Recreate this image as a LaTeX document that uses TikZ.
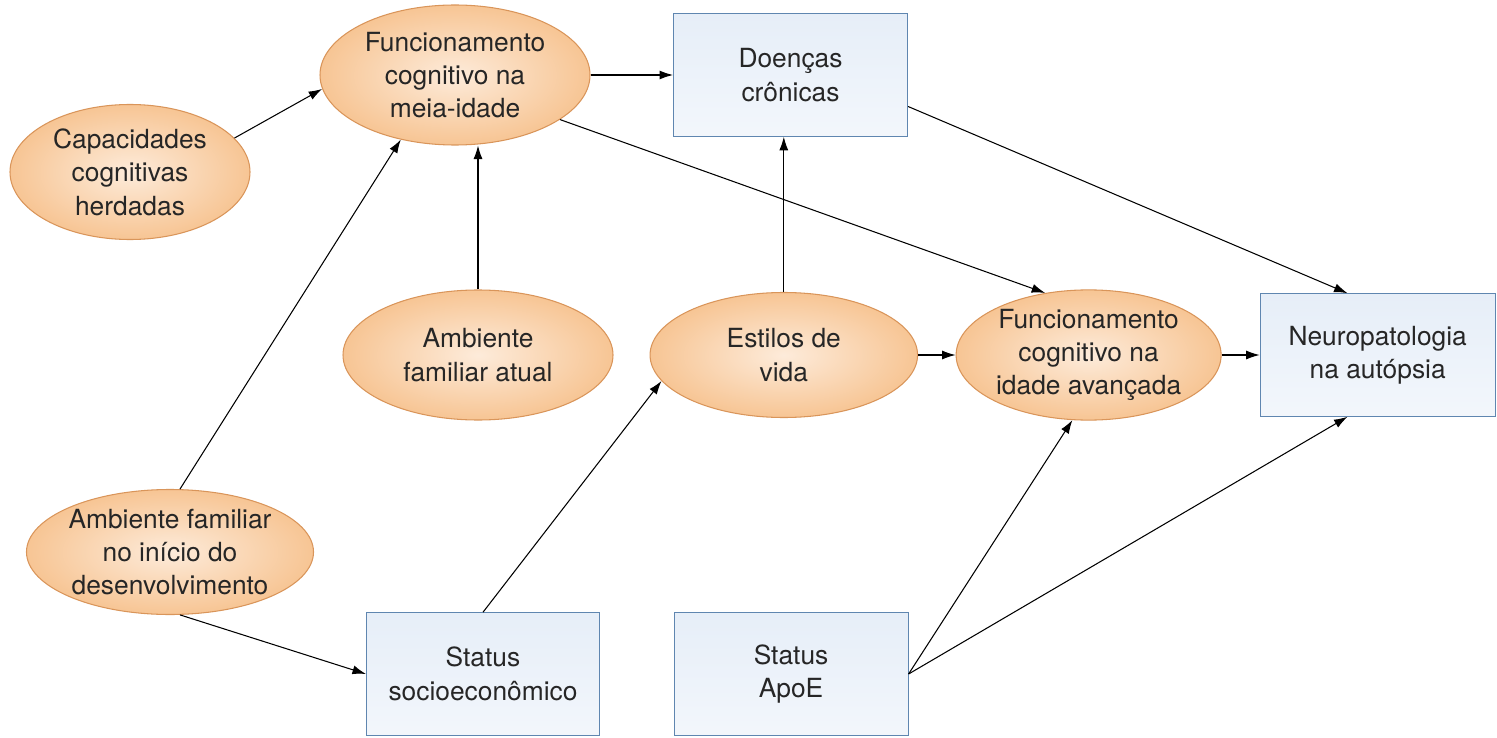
\documentclass[tikz,border=0pt]{standalone}
\usepackage{fontspec}
\setmainfont{TeX Gyre Heros}
\usetikzlibrary{shapes.geometric, arrows.meta, positioning}

\definecolor{ovallight}{HTML}{FDEBDA}
\definecolor{ovaldark}{HTML}{F7C594}
\definecolor{ovaledge}{HTML}{D9955A}
\definecolor{boxfill}{HTML}{E6EEF8}
\definecolor{boxedge}{HTML}{5F86B0}

\begin{document}
\begin{tikzpicture}[
    font=\fontsize{15}{19}\selectfont,
    factor/.style={ellipse, draw=ovaledge, line width=0.6pt, inner color=ovallight, outer color=ovaldark, align=center, inner sep=0pt, text=black!85},
    outcome/.style={rectangle, draw=boxedge, line width=0.6pt, top color=boxfill, bottom color=boxfill!50!white, align=center, minimum width=4.68cm, minimum height=2.45cm, text=black!85},
    arrow/.style={->, >={Latex[length=2.7mm,width=1.8mm]}, line width=0.6pt}
]
\useasboundingbox (0,0) rectangle (29.94,14.74);

\node[factor, minimum width=5.4cm, minimum height=2.8cm] (midcog) at (9.10,13.24) {Funcionamento\\cognitivo na\\meia-idade};
\node[outcome, right=1.65cm of midcog] (chronic) {Doenças\\crônicas};
\node[factor, minimum width=4.8cm, minimum height=2.7cm] (inherit) at (2.60,11.30) {Capacidades\\cognitivas\\herdadas};

\node[factor, minimum width=5.4cm, minimum height=2.6cm] (homenow) at (9.56,7.64) {Ambiente\\familiar atual};
\node[factor, minimum width=5.35cm, minimum height=2.5cm, right=0.72cm of homenow] (lifestyle) {Estilos de\\vida};
\node[factor, minimum width=5.3cm, minimum height=2.5cm, right=0.75cm of lifestyle] (latecog) {Funcionamento\\cognitivo na\\idade avançada};
\node[outcome, minimum width=4.7cm, right=0.76cm of latecog] (autopsy) {Neuropatologia\\na autópsia};

\node[factor, minimum width=5.4cm, minimum height=2.5cm] (homeearly) at (3.40,3.70) {Ambiente familiar\\no início do\\desenvolvimento};
\node[outcome, minimum width=4.66cm] (ses) at (9.66,1.26) {Status\\socioeconômico};
\node[outcome, right=1.47cm of ses] (apoe) {Status\\ApoE};

% influences on cognition in midlife
\draw[arrow] (inherit.18) -- (midcog.186);
\draw[arrow] (homeearly.81) -- (midcog.230);
\draw[arrow] (homenow.north) -- (homenow.north |- midcog.south);
\draw[arrow] (midcog.east) -- (chronic.west);
\draw[arrow] (midcog.-23) -- (latecog.125);

% middle row
\draw[arrow] (lifestyle.north) -- (lifestyle.north |- chronic.south);
\draw[arrow] (lifestyle.east) -- (latecog.west);
\draw[arrow] (latecog.east) -- (autopsy.west);
\draw[arrow] (chronic.-15) -- (autopsy.116);

% bottom row
\draw[arrow] (homeearly.279) -- (ses.west);
\draw[arrow] (ses.north) -- (lifestyle.192);
\draw[arrow] (apoe.east) -- (latecog.256);
\draw[arrow] (apoe.east) -- (autopsy.244);

\end{tikzpicture}
\end{document}
